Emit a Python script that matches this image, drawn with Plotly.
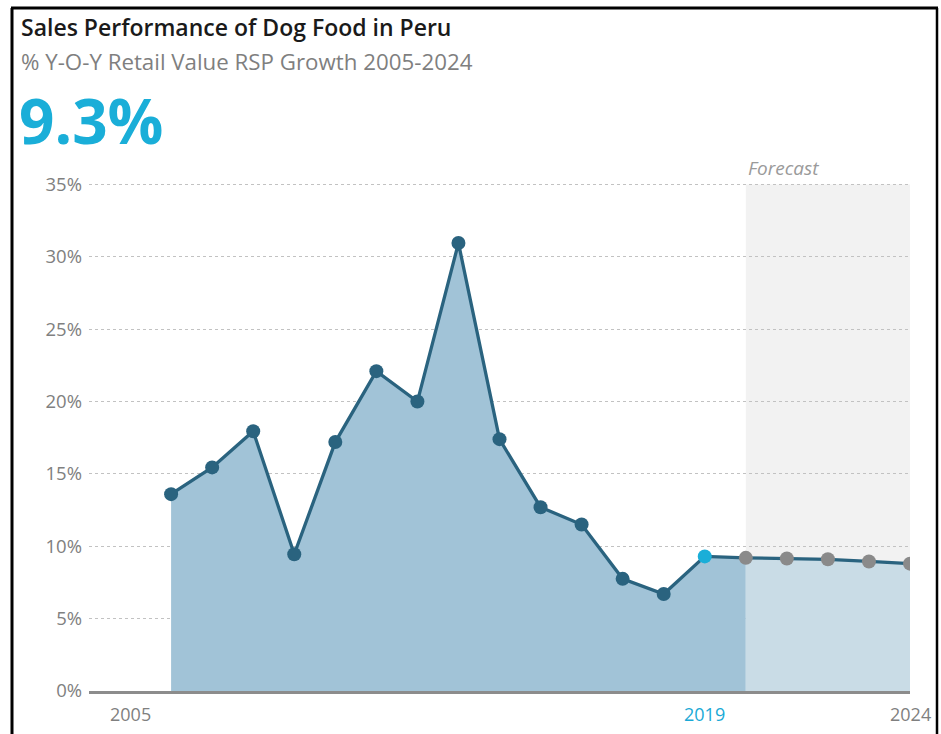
import plotly.graph_objects as go

# Year-on-year retail value growth of dog food in Peru (%), actuals and forecast
years_actual = [2006, 2007, 2008, 2009, 2010, 2011, 2012, 2013, 2014, 2015, 2016, 2017, 2018, 2019]
growth_actual = [13.6, 15.45, 17.95, 9.45, 17.2, 22.1, 20.0, 30.95, 17.4, 12.7, 11.5, 7.75, 6.7, 9.3]
years_forecast = [2020, 2021, 2022, 2023, 2024]
growth_forecast = [9.2, 9.15, 9.1, 8.95, 8.8]

y_ticks = [0, 5, 10, 15, 20, 25, 30, 35]
y_tick_text = [f"{v}%" for v in y_ticks]
x_labels = [2005, 2019, 2024]
x_label_colors = ["#7f7f7f", "#1aa9d6", "#7f7f7f"]

headline = "9.3%"
title = "Sales Performance of Dog Food in Peru"
subtitle = "% Y-O-Y Retail Value RSP Growth 2005-2024"

W, H = 941, 734
ML, MR, MT, MB = 89, 31, 183, 43
PW, PH = W - ML - MR, H - MT - MB


def px(x):
    return (x - ML) / PW


def py(y):
    return (H - MB - y) / PH


DARK = "#2a637f"
FILL = "#a1c3d7"
FILL_FC = "#c9dce6"
GREY_DOT = "#8a8a8a"
CYAN = "#1aaed8"

fig = go.Figure()

# Filled area for actual years (runs up to the first forecast year)
fig.add_trace(go.Scatter(
    x=years_actual + years_forecast[:1],
    y=growth_actual + growth_forecast[:1],
    mode="none", fill="tozeroy", fillcolor=FILL, hoverinfo="skip",
))
# Lighter area for the forecast period
fig.add_trace(go.Scatter(
    x=years_forecast, y=growth_forecast,
    mode="none", fill="tozeroy", fillcolor=FILL_FC, hoverinfo="skip",
))

all_years = years_actual + years_forecast
all_growth = growth_actual + growth_forecast
marker_colors = [DARK] * (len(years_actual) - 1) + [CYAN] + [GREY_DOT] * len(years_forecast)

fig.add_trace(go.Scatter(
    x=all_years, y=all_growth,
    mode="lines+markers",
    line=dict(color=DARK, width=3.3),
    marker=dict(size=14, color=marker_colors),
))

shapes = [
    # forecast background band
    dict(type="rect", xref="x", yref="y", x0=years_forecast[0], x1=years_forecast[-1],
         y0=0, y1=y_ticks[-1], fillcolor="#f2f2f2", line=dict(width=0), layer="below"),
    # outer frame
    dict(type="line", xref="paper", yref="paper", x0=px(12), x1=px(12), y0=py(8), y1=py(740),
         line=dict(color="black", width=3)),
    dict(type="line", xref="paper", yref="paper", x0=px(11), x1=px(938), y0=py(8), y1=py(8),
         line=dict(color="black", width=3)),
    dict(type="line", xref="paper", yref="paper", x0=px(937), x1=px(937), y0=py(8), y1=py(740),
         line=dict(color="black", width=2.5)),
]

annotations = [
    dict(text=title, xref="paper", yref="paper", x=px(19), y=py(27),
         xanchor="left", yanchor="middle", showarrow=False,
         font=dict(family="Open Sans", size=23, weight=600, color="#1a1a1a")),
    dict(text=subtitle, xref="paper", yref="paper", x=px(19), y=py(62),
         xanchor="left", yanchor="middle", showarrow=False,
         font=dict(family="Open Sans", size=22.3, color="#7f7f7f")),
    dict(text=f"<b>{headline}</b>", xref="paper", yref="paper", x=px(17), y=py(120),
         xanchor="left", yanchor="middle", showarrow=False,
         font=dict(family="Open Sans", size=62, color=CYAN)),
    dict(text="<i>Forecast</i>", xref="x", yref="y", x=years_forecast[0], y=y_ticks[-1],
         xanchor="left", yanchor="middle", yshift=16, showarrow=False,
         font=dict(family="Open Sans", size=19, color="#9a9a9a")),
]
for yr, col in zip(x_labels, x_label_colors):
    annotations.append(dict(
        text=str(yr), xref="x", yref="paper", x=yr, y=0, yshift=-23,
        xanchor="center", yanchor="middle", showarrow=False,
        font=dict(family="Open Sans", size=18, color=col)))

fig.update_layout(
    width=W, height=H,
    margin=dict(l=ML, r=MR, t=MT, b=MB),
    paper_bgcolor="white", plot_bgcolor="white",
    showlegend=False,
    shapes=shapes,
    annotations=annotations,
    font=dict(family="Open Sans"),
    xaxis=dict(
        range=[2004, 2024], showgrid=False, zeroline=False,
        showticklabels=False, ticks="",
        showline=True, linecolor="#8c8c8c", linewidth=3,
    ),
    yaxis=dict(
        range=[0, 35.1], tickvals=y_ticks, ticktext=y_tick_text,
        showgrid=True, gridcolor="#c2c2c2", griddash="dot", gridwidth=1.3,
        zeroline=False, showline=False, ticks="", ticklabelstandoff=6,
        tickfont=dict(family="Open Sans", size=18.5, color="#808080"),
    ),
)

fig.write_html("out.html")
